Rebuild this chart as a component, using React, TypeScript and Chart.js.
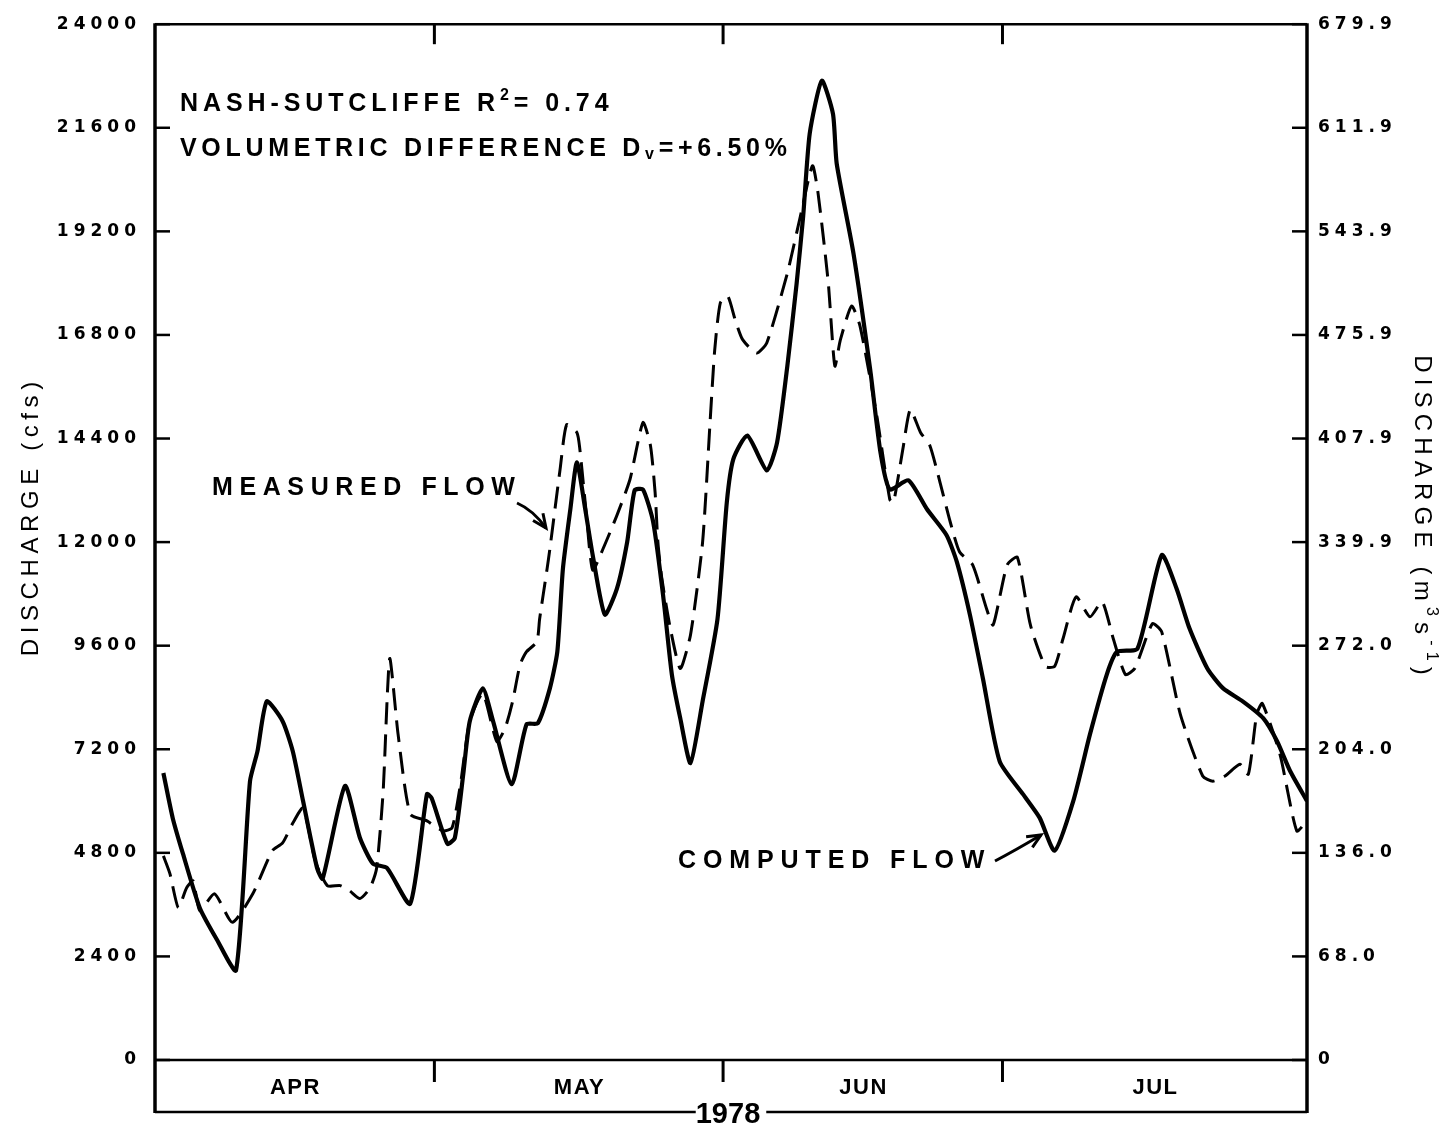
import React, { useEffect, useRef } from "react";
import { Chart, registerables } from "chart.js";

Chart.register(...registerables);

// ---------------- data ----------------
// x values are days counted from 1 April 1978
const X_MIN_DAY = 0;
const X_MAX_DAY = 123.7;
const monthNames = ["APR", "MAY", "JUN", "JUL"];
const monthStartDays = [0, 30, 61, 91];
const yearLabel = "1978";

const cfsTicks = [0, 2400, 4800, 7200, 9600, 12000, 14400, 16800, 19200, 21600, 24000];
const cmsTickLabels = ["0", "68.0", "136.0", "204.0", "272.0", "339.9", "407.9", "475.9", "543.9", "611.9", "679.9"];

const computedDays = [
  0.9, 1.9, 3.0, 4.8, 6.7, 8.7, 10.2, 11.0, 12.0, 13.7,
  14.8, 15.9, 17.4, 18.0, 20.4, 22.0, 23.4, 24.9, 27.4, 29.2,
  29.7, 31.4, 32.2, 33.1, 33.8, 35.2, 36.3, 38.3, 39.9, 41.1,
  42.4, 43.2, 43.8, 44.6, 45.3, 46.2, 47.0, 48.3, 49.6, 50.7,
  51.5, 52.4, 53.5, 54.6, 55.5, 56.4, 57.5, 58.8, 60.4, 61.4,
  62.1, 63.6, 65.7, 66.8, 67.9, 68.9, 69.6, 70.3, 71.6, 72.8,
  73.2, 75.0, 76.8, 77.9, 78.9, 80.9, 82.9, 85.0, 86.1, 87.5,
  88.9, 90.7, 93.2, 95.0, 96.6, 98.6, 100.4, 102.2, 103.3, 105.5,
  108.1, 109.7, 111.1, 113.0, 114.7, 116.8, 119.0, 120.5, 121.9, 123.7,
];
const computedCfs = [
  6650, 5610, 4780, 3530, 2770, 2080, 6460, 7150, 8310, 7850,
  7150, 6000, 4450, 4200, 6350, 5150, 4550, 4450, 3620, 6160,
  6070, 5010, 5150, 6620, 7850, 8610, 7850, 6390, 7780, 7800,
  8610, 9460, 11380, 12760, 13850, 12760, 11700, 10320, 10920, 12000,
  13200, 13220, 12460, 10690, 8930, 7920, 6880, 8310, 10220, 12920,
  13920, 14470, 13660, 14310, 16080, 18000, 19550, 21460, 22690, 21920,
  20770, 18690, 15990, 14080, 13220, 13430, 12760, 12160, 11540, 10320,
  8840, 6920, 6160, 5610, 4850, 6000, 7550, 8930, 9460, 9530,
  11700, 10920, 9990, 9070, 8610, 8310, 7920, 7380, 6690, 6000,
];

const measuredDays = [
  0.9, 1.6, 2.5, 3.4, 4.1, 4.8, 6.4, 8.3, 10.5, 12.6,
  13.7, 14.8, 15.9, 17.2, 18.5, 19.9, 20.9, 22.0, 23.1, 23.8,
  24.5, 25.2, 26.1, 27.4, 29.2, 30.9, 31.9, 32.8, 33.8, 35.2,
  36.7, 37.6, 38.4, 39.2, 39.9, 41.0, 41.3, 42.1, 42.4, 43.5,
  44.2, 45.3, 45.6, 46.3, 47.0, 48.1, 49.6, 51.0, 52.4, 53.2,
  53.7, 54.0, 54.4, 55.3, 56.4, 57.5, 58.8, 59.6, 60.1, 60.7,
  61.5, 62.3, 63.1, 64.6, 65.7, 67.9, 69.3, 70.6, 71.2, 72.3,
  73.0, 73.6, 74.8, 75.7, 77.5, 78.9, 79.3, 80.3, 81.1, 82.2,
  83.2, 84.3, 85.4, 86.4, 87.8, 89.3, 90.0, 91.5, 92.6, 94.0,
  95.6, 96.6, 97.5, 98.9, 100.4, 101.7, 102.9, 104.2, 105.2, 107.1,
  108.1, 110.1, 112.5, 113.6, 114.9, 116.5, 117.4, 118.3, 118.9, 120.8,
  122.6, 123.7,
];
const measuredCfs = [
  4730, 4320, 3530, 3990, 4150, 3460, 3850, 3190, 3850, 4850,
  5030, 5490, 5840, 4620, 4040, 4040, 3920, 3740, 3990, 4450,
  6230, 9300, 7550, 5700, 5540, 5310, 5380, 6390, 7850, 8490,
  7380, 7690, 8310, 9160, 9460, 9690, 10220, 11380, 11840, 13690,
  14720, 14540, 14190, 12690, 11350, 11840, 12620, 13450, 14770, 14240,
  13150, 12000, 11190, 10040, 9070, 9850, 12000, 14770, 16450, 17540,
  17700, 17150, 16690, 16380, 16620, 18230, 19550, 20720, 20080, 18000,
  16080, 16690, 17470, 17010, 14930, 12990, 12920, 14150, 15070, 14540,
  14240, 13380, 12460, 11770, 11470, 10450, 10080, 11470, 11650, 10080,
  9120, 9120, 9760, 10730, 10270, 10620, 9760, 8930, 9070, 10110,
  9920, 8010, 6580, 6460, 6580, 6850, 6620, 8010, 8260, 7080,
  5310, 5540,
];

const statLine1 = ["NASH-SUTCLIFFE R", "2", "= 0.74"];
const statLine2 = ["VOLUMETRIC DIFFERENCE D", "v", "=+6.50%"];
const measuredLabel = "MEASURED FLOW";
const computedLabel = "COMPUTED FLOW";
const leftTitle = "DISCHARGE (cfs)";
const rightTitleParts = ["DISCHARGE (m", "3", "s", "-1", ")"];

// ---------------- drawing helpers ----------------
const SANS = '"Liberation Sans", Arial, sans-serif';

function setSpacing(ctx: any, px: number) {
  ctx.letterSpacing = px + "px";
}

type Part = { t: string; size: number; dy: number };

function partsWidth(ctx: any, parts: Part[], weight: string, spacing: number) {
  let w = 0;
  for (const p of parts) {
    ctx.font = `${weight} ${p.size}px ${SANS}`;
    setSpacing(ctx, spacing);
    w += ctx.measureText(p.t).width;
  }
  return w;
}

function drawParts(ctx: any, parts: Part[], x: number, y: number, weight: string, spacing: number) {
  let cx = x;
  for (const p of parts) {
    ctx.font = `${weight} ${p.size}px ${SANS}`;
    setSpacing(ctx, spacing);
    ctx.fillText(p.t, cx, y + p.dy);
    cx += ctx.measureText(p.t).width;
  }
}

function line(ctx: any, x1: number, y1: number, x2: number, y2: number) {
  ctx.beginPath();
  ctx.moveTo(x1, y1);
  ctx.lineTo(x2, y2);
  ctx.stroke();
}

function arrow(ctx: any, x1: number, y1: number, cx: number, cy: number, x2: number, y2: number) {
  ctx.beginPath();
  ctx.moveTo(x1, y1);
  ctx.quadraticCurveTo(cx, cy, x2, y2);
  ctx.stroke();
  const a = Math.atan2(y2 - cy, x2 - cx);
  const L = 15;
  const s = 0.42;
  ctx.beginPath();
  ctx.moveTo(x2 - L * Math.cos(a - s), y2 - L * Math.sin(a - s));
  ctx.lineTo(x2, y2);
  ctx.lineTo(x2 - L * Math.cos(a + s), y2 - L * Math.sin(a + s));
  ctx.stroke();
}

const framePlugin = {
  id: "hydroFrame",
  beforeDraw(chart: any) {
    const ctx = chart.ctx;
    ctx.save();
    ctx.fillStyle = "#fff";
    ctx.fillRect(0, 0, chart.width, chart.height);
    ctx.restore();
    setSpacing(ctx, 5);
  },
  afterDraw(chart: any) {
    const ctx = chart.ctx;
    setSpacing(ctx, 0);
    const { left, right, top, bottom } = chart.chartArea;
    const xs = chart.scales.x;
    const ys = chart.scales.y;
    const bandBottom = bottom + 52;
    ctx.save();
    ctx.strokeStyle = "#000";
    ctx.fillStyle = "#000";
    ctx.lineCap = "butt";

    // frame
    ctx.lineWidth = 3.5;
    line(ctx, left, top - 1, left, bandBottom + 1);
    line(ctx, right, top - 1, right, bandBottom + 1);
    ctx.lineWidth = 2.5;
    line(ctx, left, top, right, top);
    line(ctx, left, bottom, right, bottom);

    // inward y ticks
    ctx.lineWidth = 2.5;
    for (const v of cfsTicks) {
      const py = ys.getPixelForValue(v);
      line(ctx, left, py, left + 15, py);
      line(ctx, right - 15, py, right, py);
    }

    // month boundaries (top ticks + band dividers) and labels
    ctx.lineWidth = 3;
    for (let i = 1; i < monthStartDays.length; i++) {
      const px = xs.getPixelForValue(monthStartDays[i]);
      line(ctx, px, top, px, top + 20);
      line(ctx, px, bottom, px, bottom + 22);
    }
    ctx.textBaseline = "alphabetic";
    ctx.textAlign = "left";
    for (let i = 0; i < monthNames.length; i++) {
      const a = monthStartDays[i];
      const b = i + 1 < monthStartDays.length ? monthStartDays[i + 1] : X_MAX_DAY;
      const cxp = xs.getPixelForValue((a + b) / 2);
      const parts = [{ t: monthNames[i], size: 22, dy: 0 }];
      const w = partsWidth(ctx, parts, "bold", 1.5) - 1.5;
      drawParts(ctx, parts, cxp - w / 2, bottom + 34, "bold", 1.5);
    }

    // bottom line with year label
    const midX = (left + right) / 2;
    ctx.font = `bold 29px ${SANS}`;
    setSpacing(ctx, 0);
    const yw = ctx.measureText(yearLabel).width;
    ctx.lineWidth = 2.5;
    line(ctx, left, bandBottom, midX - yw / 2 - 3, bandBottom);
    line(ctx, midX + yw / 2 + 3, bandBottom, right, bandBottom);
    ctx.fillText(yearLabel, midX - yw / 2 - 3, bandBottom + 11);

    // statistics text
    drawParts(
      ctx,
      [
        { t: statLine1[0], size: 25, dy: 0 },
        { t: statLine1[1], size: 16, dy: -11 },
        { t: statLine1[2], size: 25, dy: 0 },
      ],
      180, 111, "bold", 4.9
    );
    drawParts(
      ctx,
      [
        { t: statLine2[0], size: 25, dy: 0 },
        { t: statLine2[1], size: 16, dy: 3 },
        { t: statLine2[2], size: 25, dy: 0 },
      ],
      180, 156, "bold", 4.7
    );

    // series labels with arrows
    drawParts(ctx, [{ t: measuredLabel, size: 25, dy: 0 }], 212, 495, "bold", 6.6);
    drawParts(ctx, [{ t: computedLabel, size: 25, dy: 0 }], 678, 868, "bold", 6.9);
    ctx.lineWidth = 3;
    arrow(ctx, 517, 503, 533, 510, 546, 528);
    arrow(ctx, 995, 861, 1016, 850, 1041, 835);

    // axis titles
    const lParts = [{ t: leftTitle, size: 24, dy: 0 }];
    ctx.save();
    ctx.translate(31, 519);
    ctx.rotate(-Math.PI / 2);
    ctx.textBaseline = "middle";
    const lw = partsWidth(ctx, lParts, "normal", 5.6) - 5.6;
    drawParts(ctx, lParts, -lw / 2, 0, "normal", 5.6);
    ctx.restore();

    const rParts = [
      { t: rightTitleParts[0], size: 24, dy: 0 },
      { t: rightTitleParts[1], size: 16, dy: -9 },
      { t: rightTitleParts[2], size: 24, dy: 0 },
      { t: rightTitleParts[3], size: 16, dy: -9 },
      { t: rightTitleParts[4], size: 24, dy: 0 },
    ];
    ctx.save();
    ctx.translate(1422, 515);
    ctx.rotate(Math.PI / 2);
    ctx.textBaseline = "middle";
    const rw = partsWidth(ctx, rParts, "normal", 6.2) - 6.2;
    drawParts(ctx, rParts, -rw / 2, 0, "normal", 6.2);
    ctx.restore();

    ctx.restore();
    setSpacing(ctx, 0);
  },
};

export default function App() {
  const ref = useRef<HTMLCanvasElement | null>(null);

  useEffect(() => {
    document.body.style.margin = "0";
    const canvas = ref.current;
    if (!canvas) return;
    const tickFont = { family: '"DejaVu Sans", sans-serif', weight: "bold" as const, size: 17 };
    const chart = new Chart(canvas, {
      type: "line",
      data: {
        datasets: [
          {
            label: "Computed flow",
            data: computedDays.map((d, i) => ({ x: d, y: computedCfs[i] })),
            borderColor: "#000",
            borderWidth: 4.2,
            pointRadius: 0,
            tension: 0.2,
            fill: false,
            borderJoinStyle: "round",
          },
          {
            label: "Measured flow",
            data: measuredDays.map((d, i) => ({ x: d, y: measuredCfs[i] })),
            borderColor: "#000",
            borderWidth: 3,
            borderDash: [22, 10],
            pointRadius: 0,
            tension: 0.2,
            fill: false,
          },
        ],
      },
      options: {
        responsive: false,
        animation: false,
        devicePixelRatio: 1,
        layout: { padding: { top: 20, left: 0, right: 0, bottom: 0 } },
        plugins: { legend: { display: false }, tooltip: { enabled: false } },
        scales: {
          x: {
            type: "linear",
            min: X_MIN_DAY,
            max: X_MAX_DAY,
            ticks: { display: false },
            grid: { display: false, drawTicks: false },
            border: { display: false },
            afterFit: (s: any) => {
              s.height = 69;
            },
          },
          y: {
            type: "linear",
            position: "left",
            min: 0,
            max: 24000,
            afterBuildTicks: (s: any) => {
              s.ticks = cfsTicks.map((v) => ({ value: v }));
            },
            ticks: {
              color: "#000",
              font: tickFont,
              padding: 14,
              callback: (v: any) => String(v),
            },
            grid: { display: false, drawTicks: false },
            border: { display: false },
            afterFit: (s: any) => {
              s.width = 155;
            },
          },
          y2: {
            type: "linear",
            position: "right",
            min: 0,
            max: 24000,
            afterBuildTicks: (s: any) => {
              s.ticks = cfsTicks.map((v) => ({ value: v }));
            },
            ticks: {
              color: "#000",
              font: tickFont,
              padding: 11,
              callback: (_v: any, i: number) => cmsTickLabels[i],
            },
            grid: { display: false, drawTicks: false },
            border: { display: false },
            afterFit: (s: any) => {
              s.width = 138;
            },
          },
        },
      },
      plugins: [framePlugin],
    } as any);
    return () => chart.destroy();
  }, []);

  return (
    <div style={{ width: 1445, height: 1129 }}>
      <canvas ref={ref} width={1445} height={1129} style={{ display: "block" }} />
    </div>
  );
}
